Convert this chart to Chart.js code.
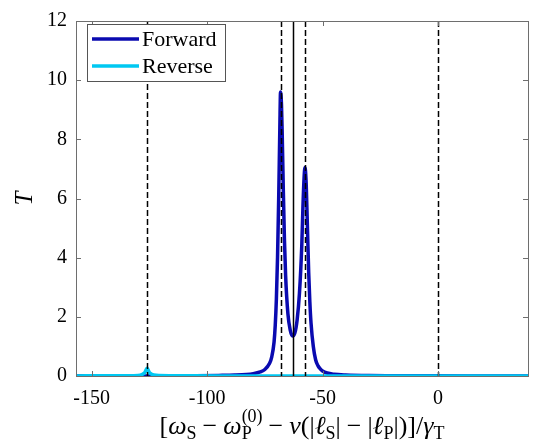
<!DOCTYPE html>
<html>
<head>
<meta charset="utf-8">
<script src="https://cdn.jsdelivr.net/npm/chart.js@4.4.1/dist/chart.umd.min.js"></script>
<style>
html,body{margin:0;padding:0;background:#fff;}
#wrap{width:533px;height:446px;position:relative;}
</style>
</head>
<body>
<div id="wrap"><canvas id="c" width="533" height="446"></canvas></div>
<script>
// ---- data ----
const detuning = [-156.8,-145,-135,-130,-128,-127,-126.5,-126,-125.5,-125,-124,-122,-115,-105,-95,-88,-83,-80,-77,-75,-73,-72,-71,-70.5,-70,-69.5,-69,-68.5,-68.2,-67.8,-67.5,-67,-66.5,-66,-65,-64,-63,-62,-61,-60,-59,-58.5,-58,-57.6,-57.2,-57,-56.5,-56,-55.5,-55,-54,-53,-52,-51,-50,-48,-45,-40,-30,-15,0,20,39];
const forwardT = [0.003,0.004,0.005,0.003,0.001,0,0,0,0,0,0.001,0.005,0.008,0.012,0.02,0.03,0.05,0.08,0.14,0.22,0.42,0.65,1.15,1.7,2.6,4.0,6.0,8.4,9.6,9.2,8.3,6.3,4.6,3.4,2.1,1.55,1.35,1.45,1.9,2.8,4.4,5.7,6.7,7.05,6.7,6.3,4.9,3.5,2.5,1.8,1.0,0.55,0.35,0.24,0.17,0.1,0.06,0.035,0.015,0.008,0.005,0.003,0.002];
const reverseT = [0.004,0.006,0.01,0.02,0.06,0.12,0.2,0.26,0.2,0.12,0.06,0.025,0.01,0.005,0.003,0.003,0.003,0.003,0.003,0.003,0.003,0.003,0.003,0.003,0.003,0.003,0.003,0.003,0.003,0.003,0.003,0.003,0.003,0.003,0.003,0.003,0.003,0.003,0.003,0.003,0.003,0.003,0.003,0.003,0.003,0.003,0.003,0.003,0.003,0.003,0.003,0.003,0.003,0.003,0.003,0.003,0.003,0.003,0.003,0.003,0.003,0.003,0.003];
const seriesNames = ['Forward','Reverse'];
const xTicks = [-150,-100,-50,0];
const yTicks = [0,2,4,6,8,10,12];
const dashedLines = [-126,-68.1,-57.5,0];
const solidLines = [-63];

const SERIF = '"Liberation Serif","DejaVu Serif",serif';
const FRAME = '#6e6e6e';

const toPts = ys => detuning.map((x,i)=>({x:x,y:ys[i]}));

const decor = {
  id:'decor',
  afterDatasetsDraw(chart){
    const {ctx, chartArea:a, scales:{x,y}} = chart;
    ctx.save();
    ctx.beginPath(); ctx.rect(a.left,a.top,a.right-a.left,a.bottom-a.top); ctx.clip();
    ctx.strokeStyle='#000'; ctx.lineWidth=1.5;
    ctx.setLineDash([6,3]);
    dashedLines.forEach(v=>{const px=Math.round(x.getPixelForValue(v))+0.5;ctx.beginPath();ctx.moveTo(px,a.top);ctx.lineTo(px,a.bottom);ctx.stroke();});
    ctx.setLineDash([]);
    solidLines.forEach(v=>{const px=Math.round(x.getPixelForValue(v))+0.5;ctx.beginPath();ctx.moveTo(px,a.top);ctx.lineTo(px,a.bottom);ctx.stroke();});
    ctx.restore();
  },
  afterDraw(chart){
    const {ctx, chartArea:a, scales:{x,y}} = chart;
    ctx.save();
    // ticks inward
    ctx.strokeStyle=FRAME; ctx.lineWidth=1;
    const L=5;
    xTicks.forEach(v=>{const px=Math.round(x.getPixelForValue(v))+0.5;
      ctx.beginPath();ctx.moveTo(px,a.bottom);ctx.lineTo(px,a.bottom-L);ctx.moveTo(px,a.top);ctx.lineTo(px,a.top+L);ctx.stroke();});
    yTicks.forEach(v=>{const py=Math.round(y.getPixelForValue(v))+0.5;
      ctx.beginPath();ctx.moveTo(a.left,py);ctx.lineTo(a.left+L,py);ctx.moveTo(a.right,py);ctx.lineTo(a.right-L,py);ctx.stroke();});
    // frame
    ctx.strokeRect(Math.round(a.left)+0.5,Math.round(a.top)+0.5,Math.round(a.right-a.left),Math.round(a.bottom-a.top));
    // legend
    const lx=87.5, ly=24.5, lw=138, lh=57;
    ctx.fillStyle='#fff'; ctx.fillRect(lx,ly,lw,lh);
    ctx.strokeStyle='#555'; ctx.lineWidth=1; ctx.strokeRect(lx,ly,lw,lh);
    chart.data.datasets.forEach((ds,i)=>{
      const yy = 39 + i*27;
      ctx.strokeStyle=ds.borderColor; ctx.lineWidth=3.5;
      ctx.beginPath(); ctx.moveTo(92,yy); ctx.lineTo(139,yy); ctx.stroke();
      ctx.fillStyle='#000'; ctx.font='22px '+SERIF; ctx.textBaseline='middle'; ctx.textAlign='left';
      ctx.fillText(ds.label,142,yy+1);
    });
    // y label
    ctx.save();
    ctx.translate(25,(a.top+a.bottom)/2);
    ctx.rotate(-Math.PI/2);
    ctx.font='italic 25px '+SERIF; ctx.fillStyle='#000'; ctx.textAlign='center'; ctx.textBaseline='middle';
    ctx.fillText('T',0,0);
    ctx.restore();
    // x label (math-style)
    const base=434, fs=26, ss=18, gap=6;
    // [text, dy, italic, size, extra-space-before/after, sup]
    const parts=[
      ['[',0,false,fs,0],['ω',0,true,fs,0],['S',5,false,ss,0],['−',0,false,fs,gap],['ω',0,true,fs,0],['P',5,false,ss,0,'(0)'],
      ['−',0,false,fs,gap],['v',0,true,fs,0],['(|',0,false,fs,0],['ℓ',0,true,fs,0],['S',5,false,ss,0],['|',0,false,fs,0],['−',0,false,fs,gap],['|',0,false,fs,0],
      ['ℓ',0,true,fs,0],['P',5,false,ss,0],['|)]/',0,false,fs,0],['γ',0,true,fs,0],['T',5,false,ss,0]
    ];
    const fontOf=p=>(p[2]?'italic ':'')+p[3]+'px '+SERIF;
    const widthOf=p=>{ctx.font=fontOf(p); let w=ctx.measureText(p[0]).width; if(p[5]){ctx.font=ss+'px '+SERIF; w=Math.max(w,ctx.measureText(p[5]).width);} return w+2*p[4];};
    let total=0; parts.forEach(p=>{total+=widthOf(p);});
    let cx=(a.left+a.right)/2-total/2;
    ctx.fillStyle='#000'; ctx.textBaseline='alphabetic'; ctx.textAlign='left';
    parts.forEach(p=>{
      const w=widthOf(p);
      ctx.font=fontOf(p);
      ctx.fillText(p[0],cx+p[4],base+p[1]);
      if(p[5]){ctx.font=ss+'px '+SERIF; ctx.fillText(p[5],cx,base-12);}
      cx+=w;
    });
    ctx.restore();
  }
};

new Chart(document.getElementById('c'),{
  type:'line',
  data:{datasets:[
    {label:seriesNames[0],data:toPts(forwardT),borderColor:'#0a0ab0',borderWidth:3.5,pointRadius:0,cubicInterpolationMode:'monotone',order:1,fill:false},
    {label:seriesNames[1],data:toPts(reverseT),borderColor:'#00c8f2',borderWidth:3.5,pointRadius:0,cubicInterpolationMode:'monotone',order:0,fill:false}
  ]},
  options:{
    responsive:false,animation:false,
    layout:{padding:{top:12,right:5,left:0,bottom:0}},
    plugins:{legend:{display:false},tooltip:{enabled:false}},
    scales:{
      x:{type:'linear',min:-156.8,max:39,
        afterBuildTicks:s=>{s.ticks=xTicks.map(v=>({value:v}));},
        afterFit:s=>{s.height=70;},
        grid:{display:false,drawTicks:false},border:{display:false},
        ticks:{padding:11,color:'#000',font:{family:SERIF,size:20},maxRotation:0,callback:v=>String(v)}},
      y:{type:'linear',min:0,max:12,
        afterBuildTicks:s=>{s.ticks=yTicks.map(v=>({value:v}));},
        afterFit:s=>{s.width=76;},
        grid:{display:false,drawTicks:false},border:{display:false},
        ticks:{padding:9,color:'#000',font:{family:SERIF,size:20},callback:v=>String(v)}}
    }
  },
  plugins:[decor]
});
</script>
</body>
</html>
